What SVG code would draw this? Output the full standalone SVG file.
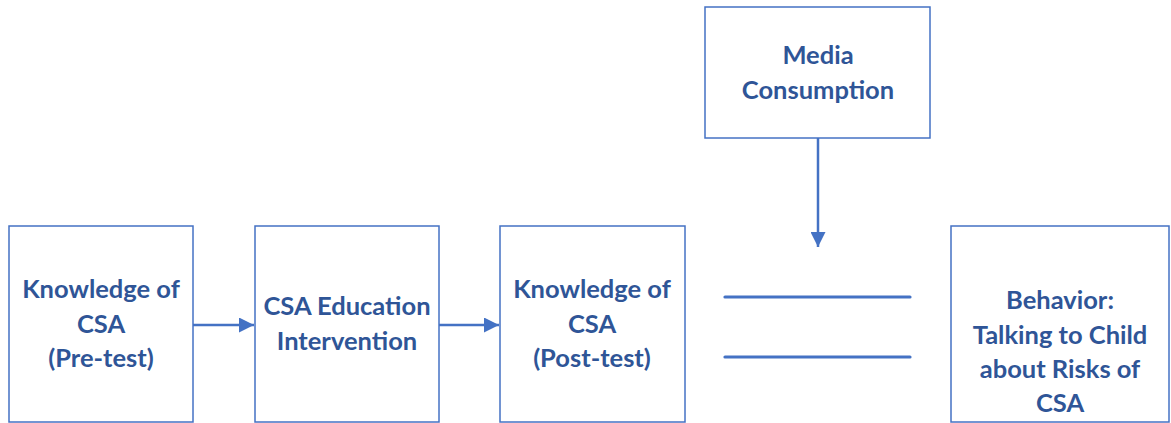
<svg xmlns="http://www.w3.org/2000/svg" width="1171" height="423" viewBox="0 0 1171 423">
<style>
.box{fill:#fff;stroke:#4472C4;stroke-width:1.5}
.t{font-family:Lato,"Liberation Sans",sans-serif;font-weight:bold;font-size:25.5px;fill:#2F5597;text-anchor:middle}
.ln{stroke:#4472C4;stroke-width:2.5;fill:none}
.bar{stroke:#4472C4;stroke-width:3.2;stroke-linecap:round;fill:none}
</style>
<defs>
<marker id="ah" markerWidth="6" markerHeight="6" refX="6" refY="3" orient="auto" markerUnits="strokeWidth">
<path d="M0,0 L6,3 L0,6 Z" fill="#4472C4"/>
</marker>
</defs>
<rect width="1171" height="423" fill="#fff"/>
<g id="connectors">
<line class="ln" x1="193" y1="325" x2="254" y2="325" marker-end="url(#ah)"/>
<line class="ln" x1="439" y1="325" x2="499" y2="325" marker-end="url(#ah)"/>
<line class="ln" x1="818" y1="138" x2="818" y2="247" marker-end="url(#ah)"/>
<line class="bar" x1="725" y1="297" x2="910" y2="297"/>
<line class="bar" x1="725" y1="357" x2="910" y2="357"/>
</g>
<g id="pretest">
<rect class="box" x="9" y="226" width="184" height="196"/>
<text class="t" x="101" y="298">Knowledge of</text>
<text class="t" x="101" y="333">CSA</text>
<text class="t" x="101" y="367">(Pre-test)</text>
</g>
<g id="intervention">
<rect class="box" x="255" y="226" width="184" height="196"/>
<text class="t" x="347" y="315">CSA Education</text>
<text class="t" x="347" y="350">Intervention</text>
</g>
<g id="posttest">
<rect class="box" x="500" y="226" width="185" height="196"/>
<text class="t" x="592" y="298">Knowledge of</text>
<text class="t" x="592" y="333">CSA</text>
<text class="t" x="592" y="367">(Post-test)</text>
</g>
<g id="media">
<rect class="box" x="705" y="7" width="225" height="131"/>
<text class="t" x="818" y="64">Media</text>
<text class="t" x="818" y="99">Consumption</text>
</g>
<g id="behavior">
<rect class="box" x="951" y="226" width="218" height="196"/>
<text class="t" x="1060" y="309">Behavior:</text>
<text class="t" x="1060" y="344">Talking to Child</text>
<text class="t" x="1060" y="378">about Risks of</text>
<text class="t" x="1060" y="412">CSA</text>
</g>
</svg>
